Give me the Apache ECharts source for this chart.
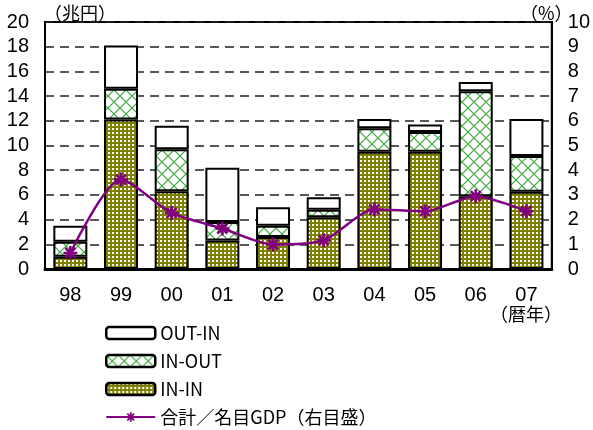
<!DOCTYPE html>
<html>
<head>
<meta charset="utf-8">
<script src="https://cdn.jsdelivr.net/npm/echarts@6/dist/echarts.min.js"></script>
<style>
  html, body { margin: 0; padding: 0; background: #fff; }
  #chart { width: 593px; height: 430px; }
</style>
</head>
<body>
<div id="chart"></div>
<script>
  // 暦年
  var years = ['98', '99', '00', '01', '02', '03', '04', '05', '06', '07']
  // 兆円
  var inIn   = [1.0, 12.1, 6.3, 2.3, 2.6, 4.2, 9.5, 9.5, 5.9, 6.25]
  var inOut  = [1.2, 2.5, 3.4, 1.5, 0.9, 0.6, 1.9, 1.6, 8.5, 2.9]
  var outIn  = [1.3, 3.5, 1.9, 4.4, 1.5, 1.0, 0.75, 0.6, 0.75, 3.0]
  // 合計／名目GDP (%)
  var ratio  = [0.65, 3.62, 2.27, 1.64, 0.99, 1.16, 2.41, 2.34, 2.95, 2.34]

  var numFont = 'Liberation Sans Narrow, Liberation Sans, sans-serif'
  var jpFont = 'Noto Sans CJK JP, sans-serif'

  // オリーブの格子模様
  function dotPattern () {
    var c = document.createElement('canvas')
    c.width = 4; c.height = 4
    var g = c.getContext('2d')
    g.fillStyle = '#808000'
    g.fillRect(0, 0, 4, 4)
    g.fillStyle = '#ffffff'
    g.fillRect(0, 0, 2, 2)
    return c
  }
  // 緑の斜め格子
  function hatchPattern () {
    var c = document.createElement('canvas')
    c.width = 12; c.height = 12
    var g = c.getContext('2d')
    g.fillStyle = '#ffffff'
    g.fillRect(0, 0, 12, 12)
    g.strokeStyle = '#3aa83a'
    g.lineWidth = 1.2
    g.beginPath()
    g.moveTo(0, 0); g.lineTo(12, 12)
    g.moveTo(12, 0); g.lineTo(0, 12)
    g.stroke()
    return c
  }

  var star = 'path://M-1.3,-7L1.3,-7L1.3,7L-1.3,7Z M-7,-1.3L7,-1.3L7,1.3L-7,1.3Z M-5.9,-4.1L-4.1,-5.9L5.9,4.1L4.1,5.9Z M4.1,-5.9L5.9,-4.1L-4.1,5.9L-5.9,4.1Z'
  var boxBorder = { borderColor: '#000', borderWidth: 2.5 }

  var chart = echarts.init(document.getElementById('chart'))
  chart.setOption({
    animation: false,
    grid: {
      left: 45, right: 37, top: 22, bottom: 161,
      show: true, borderColor: '#000', borderWidth: 2
    },
    legend: {
      orient: 'vertical',
      left: 105, top: 324, padding: 0,
      itemWidth: 49, itemHeight: 12, itemGap: 10,
      textStyle: { fontFamily: jpFont, fontSize: 18, color: '#000' },
      data: [
        { name: 'OUT-IN', itemStyle: boxBorder },
        { name: 'IN-OUT', itemStyle: boxBorder },
        { name: 'IN-IN', itemStyle: boxBorder },
        '合計／名目GDP（右目盛）'
      ]
    },
    graphic: [
      { type: 'text', left: 44, top: 4, style: { text: '（兆円）', font: '18px ' + jpFont, fill: '#000' } },
      { type: 'text', left: 520, top: 4, style: { text: '（%）', font: '18px ' + jpFont, fill: '#000' } },
      { type: 'text', left: 490, top: 305, style: { text: '（暦年）', font: '18px ' + jpFont, fill: '#000' } }
    ],
    xAxis: {
      type: 'category',
      data: years,
      axisLine: { lineStyle: { color: '#000', width: 3 } },
      axisTick: { inside: true, length: 5, lineStyle: { color: '#666' } },
      axisLabel: { fontFamily: numFont, fontSize: 20, color: '#000', margin: 16 }
    },
    yAxis: [
      {
        type: 'value', min: 0, max: 20, interval: 2,
        axisLine: { show: true, lineStyle: { color: '#000', width: 2 } },
        axisTick: { show: false },
        axisLabel: { fontFamily: numFont, fontSize: 20, color: '#000', margin: 16 },
        splitLine: { lineStyle: { color: '#222', width: 1.5, type: [9, 6] } }
      },
      {
        type: 'value', min: 0, max: 10, interval: 1,
        axisLine: { show: true, lineStyle: { color: '#000', width: 2 } },
        axisTick: { show: false },
        axisLabel: { fontFamily: numFont, fontSize: 20, color: '#000', margin: 16 },
        splitLine: { show: false }
      }
    ],
    series: [
      {
        name: 'IN-IN', type: 'bar', stack: 'total', barWidth: 34, data: inIn,
        itemStyle: { color: { image: dotPattern(), repeat: 'repeat' }, borderColor: '#000', borderWidth: 2 }
      },
      {
        name: 'IN-OUT', type: 'bar', stack: 'total', data: inOut,
        itemStyle: { color: { image: hatchPattern(), repeat: 'repeat' }, borderColor: '#000', borderWidth: 2 }
      },
      {
        name: 'OUT-IN', type: 'bar', stack: 'total', data: outIn,
        itemStyle: { color: '#fff', borderColor: '#000', borderWidth: 2 }
      },
      {
        name: '合計／名目GDP（右目盛）', type: 'line', yAxisIndex: 1, data: ratio,
        smooth: 0.25,
        symbol: star, symbolSize: 14,
        lineStyle: { color: '#800080', width: 2.5 },
        itemStyle: { color: '#800080' }
      }
    ]
  })
</script>
</body>
</html>
